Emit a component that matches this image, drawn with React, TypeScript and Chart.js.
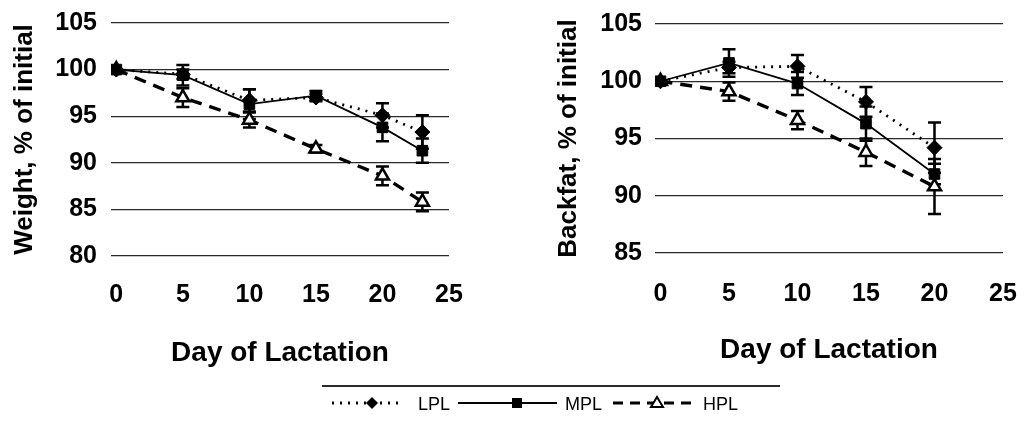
import React, { useEffect, useRef } from "react";
import { Chart, registerables } from "chart.js";

Chart.register(...registerables);

// Shared x ticks (day of lactation)
const xTicks = [0, 5, 10, 15, 20, 25];

// Body weight, % of initial
const weightDays = [0, 5, 10, 15, 20, 23];
const weightLPL = [100, 99.5, 96.7, 97.0, 95.1, 93.3];
const weightMPL = [100, 99.4, 96.3, 97.2, 93.8, 91.3];
const weightHPL = [100, 97.0, 94.6, 91.5, 88.6, 85.8];
const weightLPLErr = [0, 0.5, 1.2, 0.4, 1.3, 1.8];
const weightMPLErr = [0, 1.1, 1.6, 0.5, 1.5, 1.3];
const weightHPLErr = [0, 1.0, 0.8, 0.4, 1.0, 1.0];

// Backfat, % of initial
const backfatDays = [0, 5, 10, 15, 20];
const backfatLPL = [100, 101.2, 101.3, 98.2, 94.2];
const backfatMPL = [100, 101.6, 99.8, 96.3, 91.9];
const backfatHPL = [100, 99.1, 96.6, 93.8, 90.8];
const backfatLPLErr = [0, 0.5, 1.0, 1.3, 2.2];
const backfatMPLErr = [0, 1.2, 1.0, 1.5, 0.9];
const backfatHPLErr = [0, 0.8, 0.8, 1.2, 2.4];

const seriesNames = ["LPL", "MPL", "HPL"];

const FONT = '"Liberation Sans", Arial, Helvetica, sans-serif';
const INK = "#000";

// Vertical error bars with caps, drawn under the markers
const errorBarPlugin = {
  id: "errorBars",
  beforeDatasetsDraw(chart: any) {
    const ctx = chart.ctx;
    const xs = chart.scales.x;
    const ys = chart.scales.y;
    ctx.save();
    ctx.strokeStyle = INK;
    ctx.lineWidth = 2.5;
    chart.data.datasets.forEach((ds: any) => {
      const errs: number[] = ds.errors || [];
      ds.data.forEach((p: any, i: number) => {
        const e = errs[i];
        if (!e) return;
        const x = xs.getPixelForValue(p.x);
        const yTop = ys.getPixelForValue(p.y + e);
        const yBot = ys.getPixelForValue(p.y - e);
        const cap = 6.5;
        ctx.beginPath();
        ctx.moveTo(x, yTop);
        ctx.lineTo(x, yBot);
        ctx.moveTo(x - cap, yTop);
        ctx.lineTo(x + cap, yTop);
        ctx.moveTo(x - cap, yBot);
        ctx.lineTo(x + cap, yBot);
        ctx.stroke();
      });
    });
    ctx.restore();
  },
};

type PanelSpec = {
  days: number[];
  lpl: number[];
  mpl: number[];
  hpl: number[];
  lplErr: number[];
  mplErr: number[];
  hplErr: number[];
  yMin: number;
  yMax: number;
  yTitle: string;
  width: number;
  height: number;
  areaLeft: number;
  areaTop: number;
  areaRight: number;
  areaBottom: number;
  yTitlePad: number;
  yTickPad: number;
  xTickPad: number;
  xTitlePad: number;
};

function points(days: number[], vals: number[]) {
  return days.map((d, i) => ({ x: d, y: vals[i] }));
}

// Keep the plot area fixed: labels may overhang into the margins
function clearScalePadding(scale: any) {
  scale.paddingTop = 0;
  scale.paddingBottom = 0;
  scale.paddingLeft = 0;
  scale.paddingRight = 0;
}

function makeConfig(s: PanelSpec): any {
  return {
    type: "line",
    data: {
      datasets: [
        {
          label: seriesNames[0],
          data: points(s.days, s.lpl),
          errors: s.lplErr,
          borderColor: INK,
          borderWidth: 2.8,
          borderDash: [2, 6],
          pointStyle: "rectRot",
          pointRadius: 7.5,
          pointBackgroundColor: INK,
          pointBorderColor: INK,
          pointBorderWidth: 1,
          tension: 0,
        },
        {
          label: seriesNames[1],
          data: points(s.days, s.mpl),
          errors: s.mplErr,
          borderColor: INK,
          borderWidth: 1.8,
          pointStyle: "rect",
          pointRadius: 7.5,
          pointBackgroundColor: INK,
          pointBorderColor: INK,
          pointBorderWidth: 1,
          tension: 0,
        },
        {
          label: seriesNames[2],
          data: points(s.days, s.hpl),
          errors: s.hplErr,
          borderColor: INK,
          borderWidth: 3.4,
          borderDash: [12, 8],
          pointStyle: "triangle",
          pointRadius: 7.5,
          pointBackgroundColor: "#fff",
          pointBorderColor: INK,
          pointBorderWidth: 2.5,
          tension: 0,
        },
      ],
    },
    options: {
      animation: false,
      responsive: false,
      devicePixelRatio: 1,
      events: [],
      layout: {
        padding: {
          left: 0,
          top: s.areaTop,
          right: s.width - s.areaRight,
          bottom: 0,
        },
      },
      plugins: {
        legend: { display: false },
        tooltip: { enabled: false },
      },
      scales: {
        x: {
          type: "linear",
          min: -0.4,
          max: 25,
          afterBuildTicks: (scale: any) => {
            scale.ticks = xTicks.map((v) => ({ value: v }));
          },
          afterFit: (scale: any) => {
            scale.height = s.height - s.areaBottom;
            clearScalePadding(scale);
          },
          ticks: {
            color: INK,
            padding: s.xTickPad,
            font: { family: FONT, size: 25, weight: "bold" },
          },
          grid: { display: false, drawTicks: false },
          border: { display: false },
          title: {
            display: true,
            text: "Day of Lactation",
            color: INK,
            font: { family: FONT, size: 28, weight: "bold" },
            padding: { top: 0, bottom: s.xTitlePad },
          },
        },
        y: {
          type: "linear",
          min: s.yMin,
          max: s.yMax,
          afterFit: (scale: any) => {
            scale.width = s.areaLeft;
            clearScalePadding(scale);
          },
          ticks: {
            stepSize: 5,
            color: INK,
            padding: s.yTickPad,
            font: { family: FONT, size: 25, weight: "bold" },
          },
          grid: { color: "#2a2a2a", lineWidth: 1.3, drawTicks: false },
          border: { display: false },
          title: {
            display: true,
            text: s.yTitle,
            color: INK,
            font: { family: FONT, size: 26, weight: "bold" },
            padding: { top: s.yTitlePad, bottom: 0 },
          },
        },
      },
    },
    plugins: [errorBarPlugin],
  };
}

const weightPanel: PanelSpec = {
  days: weightDays,
  lpl: weightLPL,
  mpl: weightMPL,
  hpl: weightHPL,
  lplErr: weightLPLErr,
  mplErr: weightMPLErr,
  hplErr: weightHPLErr,
  yMin: 80,
  yMax: 105,
  yTitle: "Weight, % of initial",
  width: 470,
  height: 376,
  areaLeft: 111,
  areaTop: 23,
  areaRight: 449,
  areaBottom: 256,
  yTitlePad: 9,
  yTickPad: 14,
  xTickPad: 24,
  xTitlePad: 6,
};

const backfatPanel: PanelSpec = {
  days: backfatDays,
  lpl: backfatLPL,
  mpl: backfatMPL,
  hpl: backfatHPL,
  lplErr: backfatLPLErr,
  mplErr: backfatMPLErr,
  hplErr: backfatHPLErr,
  yMin: 85,
  yMax: 105,
  yTitle: "Backfat, % of initial",
  width: 486,
  height: 376,
  areaLeft: 115,
  areaTop: 24,
  areaRight: 463,
  areaBottom: 253,
  yTitlePad: 13,
  yTickPad: 13,
  xTickPad: 26,
  xTitlePad: 9,
};

function Panel({ spec, left }: { spec: PanelSpec; left: number }) {
  const ref = useRef<HTMLCanvasElement>(null);
  useEffect(() => {
    const chart = new Chart(ref.current as HTMLCanvasElement, makeConfig(spec));
    return () => chart.destroy();
  }, [spec]);
  return (
    <canvas
      ref={ref}
      width={spec.width}
      height={spec.height}
      style={{ position: "absolute", left, top: 0, width: spec.width, height: spec.height }}
    />
  );
}

function LegendKey() {
  const cy = 403;
  const textStyle: React.CSSProperties = {
    position: "absolute",
    top: 395,
    fontFamily: FONT,
    fontSize: 18,
    lineHeight: "18px",
    color: INK,
    whiteSpace: "nowrap",
  };
  return (
    <>
      <div
        style={{
          position: "absolute",
          left: 322,
          top: 385,
          width: 458,
          height: 1.5,
          background: "#2a2a2a",
        }}
      />
      <svg
        width={1026}
        height={434}
        style={{ position: "absolute", left: 0, top: 0, pointerEvents: "none" }}
      >
        {/* LPL sample */}
        <line x1={332} y1={cy} x2={403} y2={cy} stroke={INK} strokeWidth={2.8} strokeDasharray="2 6" />
        <polygon
          points={`372,${cy - 6} 378,${cy} 372,${cy + 6} 366,${cy}`}
          fill={INK}
        />
        {/* MPL sample */}
        <line x1={458} y1={cy} x2={557} y2={cy} stroke={INK} strokeWidth={2} />
        <rect x={512} y={cy - 5} width={10} height={10} fill={INK} />
        {/* HPL sample */}
        <line x1={613} y1={cy} x2={698} y2={cy} stroke={INK} strokeWidth={3} strokeDasharray="10 7" />
        <polygon
          points={`657,${cy - 6} 663,${cy + 4} 651,${cy + 4}`}
          fill="#fff"
          stroke={INK}
          strokeWidth={2}
        />
      </svg>
      <span style={{ ...textStyle, left: 418 }}>{seriesNames[0]}</span>
      <span style={{ ...textStyle, left: 565 }}>{seriesNames[1]}</span>
      <span style={{ ...textStyle, left: 703 }}>{seriesNames[2]}</span>
    </>
  );
}

export default function App() {
  return (
    <div
      style={{
        position: "absolute",
        left: 0,
        top: 0,
        width: 1026,
        height: 434,
        background: "#fff",
        overflow: "hidden",
      }}
    >
      <Panel spec={weightPanel} left={0} />
      <Panel spec={backfatPanel} left={540} />
      <LegendKey />
    </div>
  );
}
